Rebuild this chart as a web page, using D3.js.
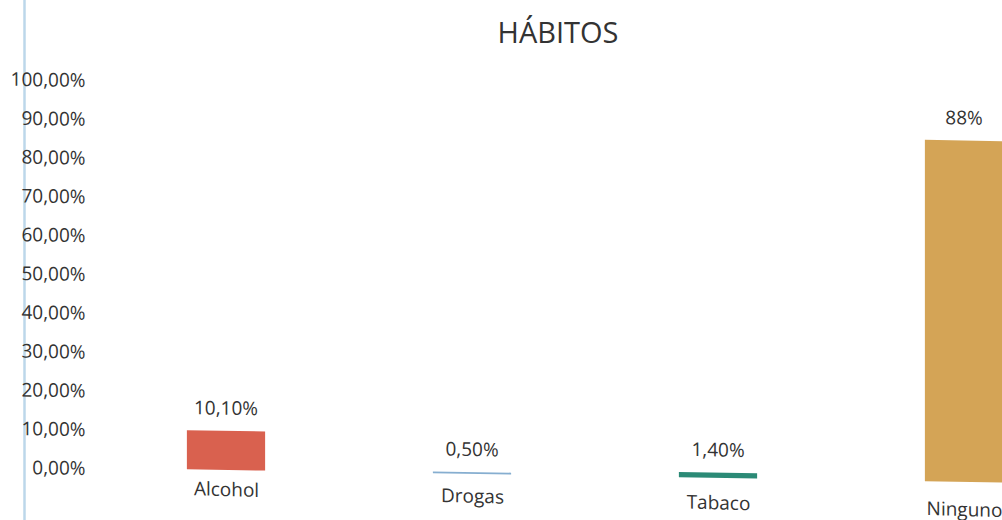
<!DOCTYPE html>
<html>
<head>
<meta charset="utf-8">
<script src="https://cdn.jsdelivr.net/npm/d3@7"></script>
<style>
  html, body { margin: 0; padding: 0; background: #ffffff; }
  svg { display: block; }
  text { font-family: "Open Sans", "Noto Sans", sans-serif; fill: #333333; }
</style>
</head>
<body>
<svg id="chart" width="1002" height="520"></svg>
<script>
// Chart data
const categories = ["Alcohol", "Drogas", "Tabaco", "Ninguno"];
const values = [0.101, 0.005, 0.014, 0.88];
const valueDecimals = [2, 2, 2, 0];
const barColors = ["#d9614f", "#86aed0", "#2b8a76", "#d4a456"];
const yTicks = [0, 0.1, 0.2, 0.3, 0.4, 0.5, 0.6, 0.7, 0.8, 0.9, 1.0];
const title = "HÁBITOS";

const es = d3.formatLocale({ decimal: ",", thousands: ".", grouping: [3], currency: ["", " €"], percent: "%" });
const pct = d => es.format(".2%")(d);

const W = 1002, H = 520;
const svg = d3.select("#chart");

// Page margin rule on the left
svg.append("line")
  .attr("x1", 24.5).attr("x2", 24.5)
  .attr("y1", 0).attr("y2", H)
  .attr("stroke", "#bcd7ea").attr("stroke-width", 2.5);

// Title
svg.append("text")
  .attr("x", 558).attr("y", 43)
  .attr("text-anchor", "middle")
  .style("font-size", "29px")
  .style("fill", "#333333")
  .text(title);

// Scales
const y = d3.scaleLinear().domain([0, 1]).range([466.3, 78.3]);
const x = d3.scalePoint().domain(categories).range([226, 964]);
const barW = x.step() * 0.318;

// Plot area sits slightly tilted
const plot = svg.append("g").attr("transform", "skewY(0.93)");

// Y axis
const yAxis = plot.append("g")
  .attr("transform", "translate(85.5,0)")
  .call(d3.axisLeft(y).tickValues(yTicks).tickFormat(pct).tickSize(0).tickPadding(0));
yAxis.select(".domain").remove();
yAxis.selectAll("text")
  .style("font-size", "19px")
  .style("fill", "#333333")
  .attr("dy", "0.36em");

// Bars
plot.selectAll("rect.bar")
  .data(values)
  .join("rect")
  .attr("class", "bar")
  .attr("x", (d, i) => x(categories[i]) - barW / 2)
  .attr("width", barW)
  .attr("y", d => y(d))
  .attr("height", d => y(0) - y(d))
  .attr("fill", (d, i) => barColors[i]);

// Value labels
plot.selectAll("text.val")
  .data(values)
  .join("text")
  .attr("class", "val")
  .attr("x", (d, i) => x(categories[i]))
  .attr("y", d => y(d) - 16)
  .attr("text-anchor", "middle")
  .style("font-size", "19px")
  .text((d, i) => es.format("." + valueDecimals[i] + "%")(d));

// Category axis
const xAxisG = svg.append("g")
  .attr("transform", "translate(0,490) skewY(1.55)")
  .call(d3.axisBottom(x).tickSize(0).tickPadding(0));
xAxisG.select(".domain").remove();
xAxisG.selectAll("text")
  .attr("y", 0).attr("dy", 0)
  .style("font-size", "19px")
  .style("fill", "#333333");
</script>
</body>
</html>
